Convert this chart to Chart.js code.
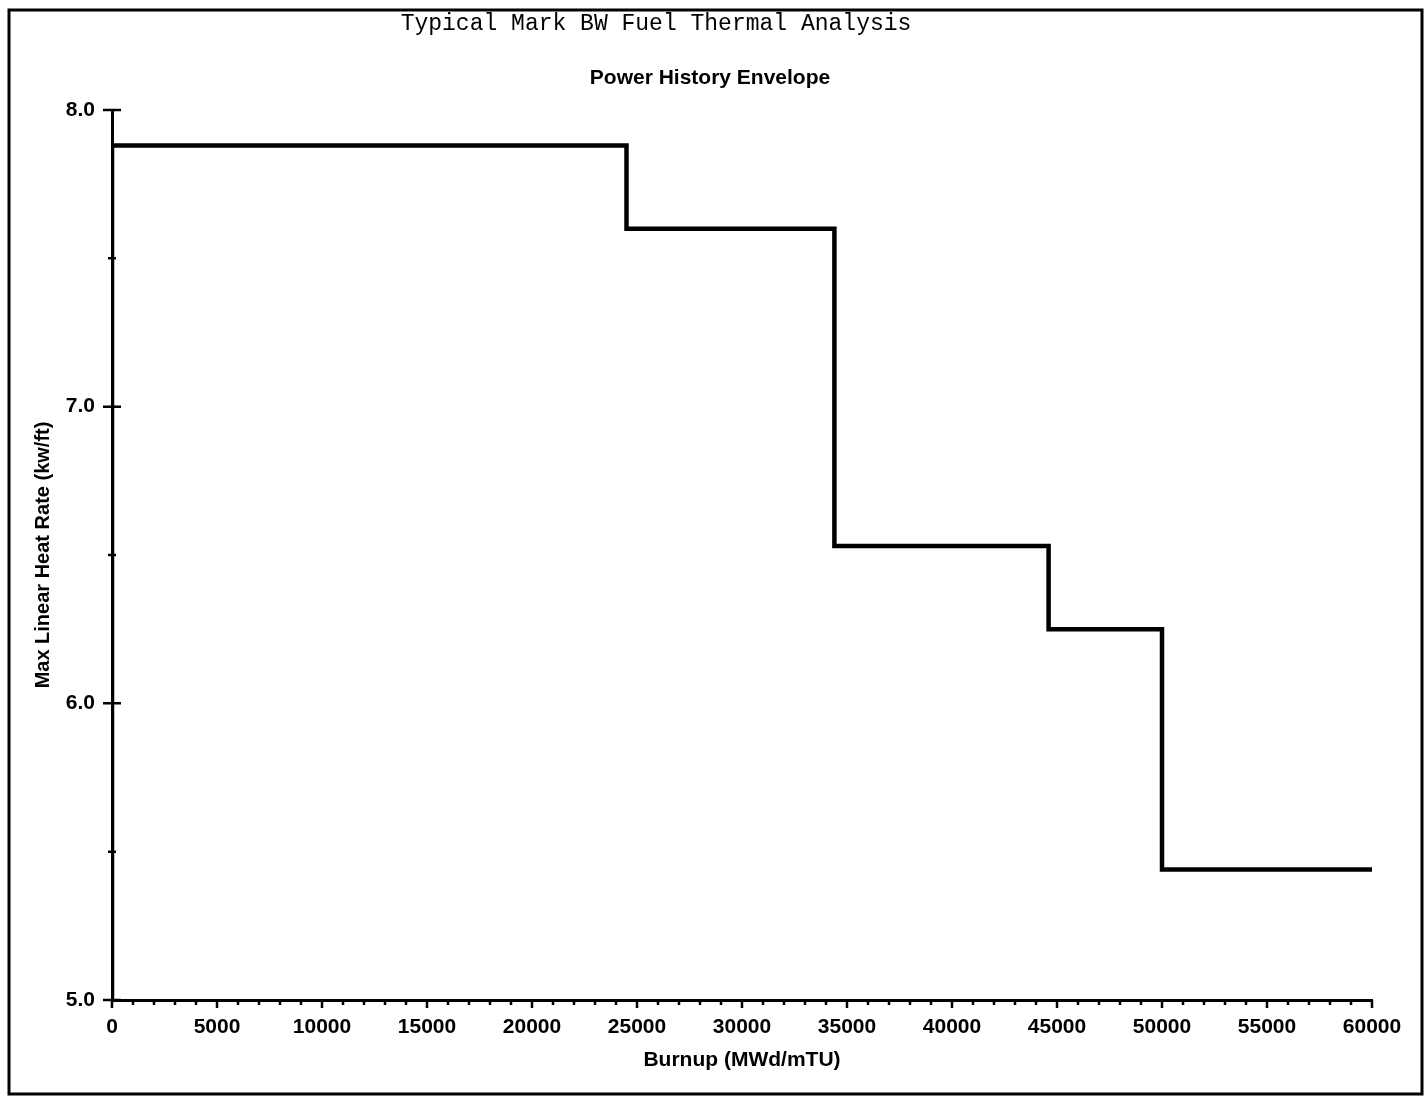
<!DOCTYPE html>
<html>
<head>
<meta charset="utf-8">
<title>Power History Envelope</title>
<script src="https://cdn.jsdelivr.net/npm/chart.js@4.4.1/dist/chart.umd.min.js"></script>
<style>
  html, body { margin: 0; padding: 0; background: #fff; }
  #wrap { width: 1427px; height: 1099px; position: relative; }
</style>
</head>
<body>
<div id="wrap"><canvas id="envelopeChart"></canvas></div>
<script>
// burnup break points (MWd/mTU) and the heat rate reached at each one
const burnup = [0, 0, 24500, 34400, 44600, 50000, 60000];
const heatRate = [5.0, 7.88, 7.60, 6.53, 6.25, 5.44, 5.44];

// axis ranges and tick spacing
const xRange = [0, 60000];
const yRange = [5.0, 8.0];
const xMajorStep = 5000;
const xMinorStep = 1000;
const yMajorStep = 1.0;
const yMinorStep = 0.5;

const mainTitle = 'Typical Mark BW Fuel Thermal Analysis';
const subTitle = 'Power History Envelope';

const labelFont = { family: 'Liberation Sans', size: 21, weight: 'bold' };

// frame, headings and the small tick marks of the scanned plot
const paperPlugin = {
    id: 'paper',
    beforeDraw(chart) {
        const ctx = chart.ctx;
        ctx.save();
        ctx.fillStyle = '#fff';
        ctx.fillRect(0, 0, chart.width, chart.height);
        ctx.strokeStyle = '#000';
        ctx.lineWidth = 3;
        ctx.strokeRect(9, 10, 1413, 1084);

        ctx.fillStyle = '#000';
        ctx.textAlign = 'center';
        ctx.textBaseline = 'middle';
        ctx.font = '23px "Liberation Mono", monospace';
        ctx.fillText(mainTitle, 656, 24);
        ctx.font = 'bold 21px "Liberation Sans", Arial, sans-serif';
        ctx.fillText(subTitle, 710, 78);
        ctx.restore();
    },
    afterDraw(chart) {
        const { ctx, scales: { x, y } } = chart;
        ctx.save();
        ctx.strokeStyle = '#000';
        ctx.lineWidth = 2.5;
        ctx.beginPath();
        // x axis: short marks below the line, longer at the labelled ones
        for (let v = xRange[0]; v <= xRange[1]; v += xMinorStep) {
            const px = x.getPixelForValue(v);
            const len = v % xMajorStep === 0 ? 8 : 5;
            ctx.moveTo(px, x.top);
            ctx.lineTo(px, x.top + len);
        }
        // y axis: marks crossing the line
        for (let v = yRange[0]; v <= yRange[1] + 1e-9; v += yMinorStep) {
            const py = y.getPixelForValue(v);
            const major = Math.abs(v - Math.round(v / yMajorStep) * yMajorStep) < 1e-6;
            const len = major ? 9 : 4;
            ctx.moveTo(y.right - len, py);
            ctx.lineTo(y.right + len, py);
        }
        ctx.stroke();
        ctx.restore();
    }
};

const ctx = document.getElementById('envelopeChart').getContext('2d');

const envelopeChart = new Chart(ctx, {
    type: 'line',
    data: {
        datasets: [{
            label: subTitle,
            data: burnup.map((b, i) => ({ x: b, y: heatRate[i] })),
            stepped: true,
            borderColor: '#000',
            borderWidth: 4.5,
            pointRadius: 0,
            fill: false
        }]
    },
    options: {
        responsive: true,
        maintainAspectRatio: false,
        animation: false,
        layout: {
            padding: { left: 10, right: 55, top: 110, bottom: 6 }
        },
        plugins: {
            legend: { display: false },
            tooltip: { enabled: false }
        },
        scales: {
            x: {
                type: 'linear',
                min: xRange[0],
                max: xRange[1],
                afterFit: (scale) => { scale.height = 93; },
                ticks: {
                    stepSize: xMajorStep,
                    callback: (v) => String(v),
                    font: labelFont,
                    color: '#000',
                    padding: 15,
                    maxRotation: 0,
                    autoSkip: false
                },
                grid: { drawOnChartArea: false, drawTicks: false },
                border: { display: true, color: '#000', width: 3 },
                title: {
                    display: true,
                    text: 'Burnup (MWd/mTU)',
                    color: '#000',
                    font: { family: 'Liberation Sans', size: 21, weight: 'bold' },
                    padding: { top: 0, bottom: 20 }
                }
            },
            y: {
                type: 'linear',
                min: yRange[0],
                max: yRange[1],
                afterFit: (scale) => { scale.width = 102; },
                ticks: {
                    stepSize: yMajorStep,
                    callback: (v) => v.toFixed(1),
                    font: labelFont,
                    color: '#000',
                    padding: 17
                },
                grid: { drawOnChartArea: false, drawTicks: false },
                border: { display: true, color: '#000', width: 3 },
                title: {
                    display: true,
                    text: 'Max Linear Heat Rate (kw/ft)',
                    color: '#000',
                    font: { family: 'Liberation Sans', size: 20, weight: 'bold' },
                    padding: { top: 21, bottom: 0 }
                }
            }
        }
    },
    plugins: [paperPlugin]
});
</script>
</body>
</html>
